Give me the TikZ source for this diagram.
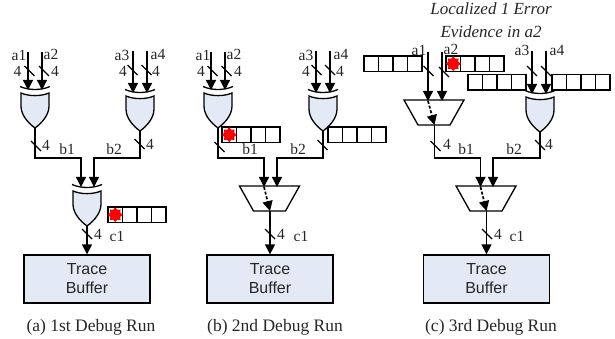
\documentclass[tikz,border=0pt]{standalone}
\usepackage{fontspec}
\setmainfont{Liberation Serif}
\newfontfamily\boxfont{Liberation Sans}
\usetikzlibrary{arrows.meta,shapes.geometric}
\definecolor{gatefill}{HTML}{E4EAF5}
\tikzset{
  x=1pt,y=-1pt,
  wire/.style={line width=1.3pt,line join=miter},
  arrowwire/.style={wire,-{Triangle[length=10pt,width=10pt]}},
  dashwire/.style={arrowwire,line width=1.7pt,dash pattern=on 3pt off 1.8pt},
  tick/.style={line width=1.1pt},
  lab/.style={font=\fontsize{15.5}{15.5}\selectfont,text=black!85,inner sep=0pt},
  captext/.style={font=\fontsize{17.5}{17.5}\selectfont,text=black!85,inner sep=0pt},
  gatebody/.style={draw,fill=gatefill,line width=1.3pt,line join=miter},
  muxbody/.style={draw,fill=white,line width=1.3pt},
  cell/.style={draw,line width=1.3pt,fill=white,minimum width=14.5pt,minimum height=15.5pt,inner sep=0pt,outer sep=0pt},
  errstar/.style={star,star points=8,star point ratio=1.4,fill=red,inner sep=0pt,minimum size=15pt},
  buffer/.style={draw,fill=gatefill,line width=1.3pt,minimum width=126pt,minimum height=48pt,inner sep=0pt,align=center,font=\boxfont\fontsize{16}{19}\selectfont,text=black!85}
}
% #1 name, #2 cx, #3 top y
\newcommand\orgate[3]{%
  \path[gatebody] (#2-14,#3) .. controls (#2-6,#3+3.5) and (#2+6,#3+3.5) .. (#2+14,#3)
    -- (#2+14,#3+13) .. controls (#2+14,#3+22) and (#2+7,#3+30) .. (#2,#3+35)
    .. controls (#2-7,#3+30) and (#2-14,#3+22) .. (#2-14,#3+13) -- cycle;
  \draw[wire] (#2-15,#3-6.5) .. controls (#2-6,#3-2.5) and (#2+6,#3-2.5) .. (#2+15,#3-6.5);
  \coordinate (#1) at (#2,#3+35);
}
% #1 name, #2 cx, #3 top y, top corners +-30, bottom +-16
\newcommand\mux[3]{%
  \path[muxbody] (#2-30,#3) -- (#2+30,#3) -- (#2+16,#3+25) -- (#2-16,#3+25) -- cycle;
  \coordinate (#1) at (#2+0.5,#3+25);
}
% #1 name, #2 left x, #3 top y
\newcommand\reg[3]{%
  \node[cell,anchor=north west] (#1c1) at (#2,#3) {};
  \node[cell,anchor=west] (#1c2) at (#1c1.east) {};
  \node[cell,anchor=west] (#1c3) at (#1c2.east) {};
  \node[cell,anchor=west] (#1c4) at (#1c3.east) {};
}
% #1 name, #2 x, #3 y1, #4 y2
\newcommand\inwire[4]{%
  \coordinate (#1s) at (#2,#3);
  \coordinate (#1e) at (#2,#4);
  \draw[arrowwire] (#1s) -- (#1e);
}
\newcommand\lb[4]{\node[lab] (#1) at (#2,#3) {#4};}
\newcommand\ticks[2]{\draw[tick] (#1-5,#2-5) -- (#1+5,#2+5);}
\begin{document}
\begin{tikzpicture}
\useasboundingbox (0,0) rectangle (615,339);
%%%% Panel a
\orgate{pag1}{35}{93}\orgate{pag2}{140}{96}\orgate{pag3}{87}{191}
\inwire{paa1}{28}{52}{90}\inwire{paa2}{42}{52}{90}
\inwire{paa3}{133}{51}{93}\inwire{paa4}{147}{51}{93}
\lb{pala1}{19}{55}{a1}\lb{pala2}{51}{54}{a2}\lb{pala3}{122}{55}{a3}\lb{pala4}{158}{54}{a4}
\lb{pan1}{17.5}{71.5}{4}\lb{pan2}{55}{71.5}{4}\lb{pan3}{123}{71}{4}\lb{pan4}{156}{71}{4}
\ticks{29.5}{71}\ticks{44}{71}\ticks{132.5}{70}\ticks{146.5}{70}
\coordinate (pam1) at (81,158);\coordinate (pam2) at (94,158);
\coordinate (pai1) at (81,187);\coordinate (pai2) at (94,187);
\draw[arrowwire] (pag1) |- (pam1) -- (pai1);
\draw[arrowwire] (pag2) |- (pam2) -- (pai2);
\ticks{36}{146}\lb{pan5}{46}{145}{4}\lb{pab1}{67}{149}{b1}\lb{pab2}{114}{149}{b2}
\ticks{139.5}{144}\lb{pan6}{150}{144}{4}
\node[buffer] (pabuf) at (87,279) {Trace\\Buffer};
\draw[arrowwire] (pag3) -- (pabuf.north);
\ticks{87}{234}\lb{pan7}{98}{234}{4}\lb{pac1}{117}{236}{c1}
\reg{par}{108}{207}\node[errstar] (pas) at (parc1) {};
\node[captext] (pacap) at (91,327) {(a) 1st Debug Run};
%%%% Panel b
\mux{pbm3}{269.5}{186}
\orgate{pbg1}{218}{93}\orgate{pbg2}{323}{96}
\inwire{pba1}{211}{52}{90}\inwire{pba2}{225}{52}{90}
\inwire{pba3}{316}{51}{93}\inwire{pba4}{330}{51}{93}
\lb{pbla1}{203}{55}{a1}\lb{pbla2}{234}{54}{a2}\lb{pbla3}{306}{55}{a3}\lb{pbla4}{341}{54}{a4}
\lb{pbn1}{201}{71.5}{4}\lb{pbn2}{238}{71.5}{4}\lb{pbn3}{306}{71}{4}\lb{pbn4}{340}{71}{4}
\ticks{212.5}{71}\ticks{226.5}{71}\ticks{316.5}{70}\ticks{330}{70}
\coordinate (pbm1) at (264,158);\coordinate (pbm2) at (277,158);
\coordinate (pbi1) at (264,187);\coordinate (pbi2) at (277,187);
\draw[arrowwire] (pbg1) |- (pbm1) -- (pbi1);
\draw[arrowwire] (pbg2) |- (pbm2) -- (pbi2);
\draw[dashwire] (pbi1) -- (pbm3);
\ticks{219.5}{147}\ticks{322.5}{145}
\lb{pbb1}{250}{149}{b1}\lb{pbb2}{298}{149}{b2}
\reg{pbr1}{222}{127}\node[errstar] (pbs) at (pbr1c1) {};
\reg{pbr2}{328}{127}
\node[buffer] (pbbuf) at (270,279) {Trace\\Buffer};
\draw[arrowwire] (pbm3) -- (pbbuf.north);
\ticks{270}{234}\lb{pbn7}{281}{234}{4}\lb{pbc1}{301}{236}{c1}
\node[captext] (pbcap) at (275,327) {(b) 2nd Debug Run};
%%%% Panel c
\node[lab,font=\itshape\fontsize{17}{17}\selectfont] (pctitle1) at (491,9) {Localized 1 Error};
\node[lab,font=\itshape\fontsize{17}{17}\selectfont] (pctitle2) at (491,32) {Evidence in a2};
\mux{pcm1}{434}{100}\mux{pcm3}{486}{186}
\orgate{pcg2}{540}{97}
\inwire{pca1}{428}{52}{101}\inwire{pca2}{442}{52}{101}
\inwire{pca3}{532}{51}{94}\inwire{pca4}{546}{51}{94}
\draw[dashwire] (pca1e) -- (pcm1);
\lb{pcla1}{419}{50}{a1}\lb{pcla2}{451}{49}{a2}\lb{pcla3}{522}{50}{a3}\lb{pcla4}{557}{50}{a4}
\ticks{428.5}{71}\ticks{444}{72}\ticks{532}{71}\ticks{546}{71}
\reg{pcr1}{364}{56}
\reg{pcr2}{446}{56}\node[errstar] (pcs) at (pcr2c1) {};
\reg{pcr3}{468}{74.5}\reg{pcr4}{552}{74.5}
\coordinate (pcj1) at (480.5,158);\coordinate (pcj2) at (493,158);
\coordinate (pci1) at (480.5,187);\coordinate (pci2) at (493,187);
\draw[arrowwire] (pcm1) |- (pcj1) -- (pci1);
\draw[arrowwire] (pcg2) |- (pcj2) -- (pci2);
\draw[dashwire] (pci1) -- (pcm3);
\ticks{435.5}{146}\lb{pcn5}{447}{144}{4}\lb{pcb1}{466}{149}{b1}\lb{pcb2}{514}{149}{b2}
\ticks{540}{145}\lb{pcn6}{549}{144}{4}
\node[buffer] (pcbuf) at (486.5,279) {Trace\\Buffer};
\draw[arrowwire] (pcm3) -- (pcbuf.north);
\ticks{487}{234}\lb{pcn7}{498}{234}{4}\lb{pcc1}{517}{236}{c1}
\node[captext] (pccap) at (491,327) {(c) 3rd Debug Run};
\end{tikzpicture}
\end{document}
